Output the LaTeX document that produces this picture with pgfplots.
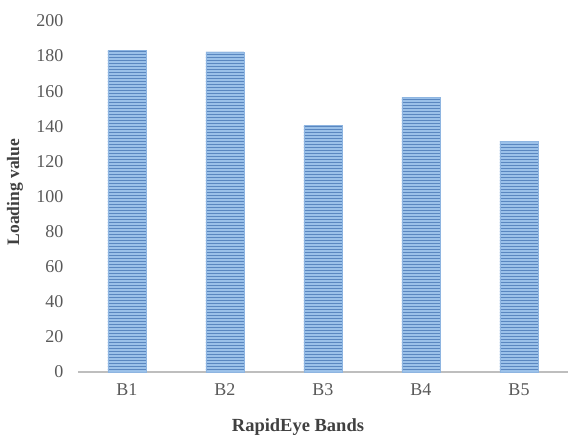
\documentclass[border=0pt]{standalone}
\usepackage{pgfplots}
\pgfplotsset{compat=1.18}
\usetikzlibrary{patterns}
\usepackage{fontspec}
\setmainfont{Liberation Serif}

\definecolor{barfill}{RGB}{155,193,233}
\definecolor{barline}{RGB}{90,135,192}
\definecolor{axisgray}{RGB}{190,190,190}
\definecolor{ticktext}{RGB}{89,89,89}
\definecolor{labeltext}{RGB}{64,64,64}

\begin{document}
\begin{tikzpicture}
\begin{axis}[
  scale only axis,
  width=490pt, height=351pt,
  xmin=-0.5, xmax=4.5,
  ymin=0, ymax=200,
  ytick={0,20,...,200},
  xtick=data,
  xticklabels={B1,B2,B3,B4,B5},
  axis x line*=bottom,
  axis y line*=left,
  x axis line style={draw=axisgray, line width=1.5pt, -},
  y axis line style={draw=none},
  major tick length=0pt,
  tick style={draw=none},
  /pgf/number format/assume math mode=true,
  ticklabel style={font=\fontsize{18}{20}\selectfont, text=ticktext},
  yticklabel style={xshift=-11pt},
  xticklabel style={yshift=-8pt},
  ybar, bar width=38pt, bar shift=0pt,
  clip=false,
]
\addplot[fill=barfill, draw=barfill!80!barline, line width=0.5pt,
  postaction={pattern=horizontal lines, pattern color=barline}]
  coordinates {(0,183.4) (1,182.4) (2,140.6) (3,156.6) (4,131.4)};

\node[font=\bfseries\fontsize{17.5}{20}\selectfont, text=labeltext, rotate=90]
  at (rel axis cs:-0.1286,0.513) {Loading value};
\node[font=\bfseries\fontsize{18.5}{21}\selectfont, text=labeltext]
  at (rel axis cs:0.449,-0.158) {RapidEye Bands};
\path (rel axis cs:-0.159,-0.208) rectangle (rel axis cs:1.0102,1.0598);
\end{axis}
\end{tikzpicture}
\end{document}
